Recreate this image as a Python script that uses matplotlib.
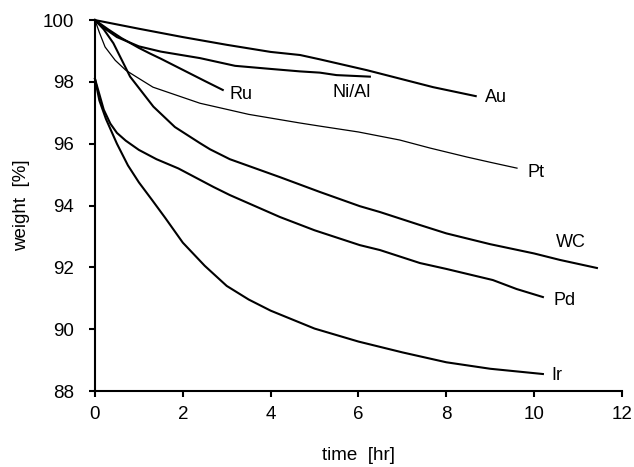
import matplotlib
matplotlib.use("Agg")
import matplotlib.pyplot as plt

plt.rcParams['font.family'] = ['Liberation Sans', 'DejaVu Sans']

# weight loss curves (time in hr, weight in %)
au_t = [0, 1, 2, 3, 4, 4.67, 5.12, 6.19, 7.7, 8.67]
au_w = [100, 99.72, 99.45, 99.2, 98.97, 98.87, 98.73, 98.38, 97.83, 97.54]

nial_t = [0, 0.25, 0.5, 1.0, 1.5, 2.39, 3.19, 4.0, 4.67, 5.12, 5.5, 6.26]
nial_w = [100, 99.7, 99.45, 99.15, 98.98, 98.77, 98.52, 98.42, 98.34, 98.3, 98.22, 98.17]

ru_t = [0, 0.3, 0.6, 1.0, 1.25, 1.5, 2.0, 2.5, 2.91]
ru_w = [100, 99.7, 99.42, 99.1, 98.92, 98.75, 98.39, 98.03, 97.74]

pt_t = [0, 0.1, 0.23, 0.46, 0.7, 0.9, 1.32, 2.39, 3.07, 3.5, 4.67, 5.12, 6.0, 6.94, 7.63, 8.47, 9.0, 9.61]
pt_w = [100, 99.6, 99.13, 98.7, 98.38, 98.2, 97.83, 97.31, 97.09, 96.95, 96.67, 96.57, 96.38, 96.12, 95.86, 95.57, 95.4, 95.21]

wc_t = [0, 0.2, 0.42, 0.8, 1.33, 1.82, 2.39, 2.62, 3.07, 4.21, 5.12, 6.03, 6.49, 7.4, 8.0, 9.0, 10.0, 10.59, 11.43]
wc_w = [100, 99.7, 99.25, 98.17, 97.2, 96.54, 96.02, 95.82, 95.5, 94.92, 94.44, 93.98, 93.79, 93.37, 93.1, 92.75, 92.45, 92.24, 91.98]

pd_t = [0, 0.1, 0.2, 0.35, 0.5, 0.7, 1.0, 1.4, 1.9, 2.7, 3.07, 4.21, 5.0, 6.03, 6.49, 7.4, 8.0, 9.06, 9.6, 10.2]
pd_w = [98.1, 97.6, 97.1, 96.65, 96.35, 96.1, 95.8, 95.5, 95.2, 94.6, 94.34, 93.63, 93.2, 92.72, 92.56, 92.14, 91.95, 91.59, 91.3, 91.04]

ir_t = [0, 0.1, 0.25, 0.5, 0.75, 1.0, 1.3, 1.6, 2.0, 2.5, 3.0, 3.5, 4.0, 5.0, 6.0, 7.0, 8.0, 9.0, 10.2]
ir_w = [98.1, 97.4, 96.8, 96.0, 95.3, 94.75, 94.18, 93.6, 92.8, 92.05, 91.4, 90.96, 90.6, 90.02, 89.6, 89.25, 88.93, 88.72, 88.55]

labels = ['Ru', 'Ni/Al', 'Au', 'Pt', 'WC', 'Pd', 'Ir']
label_x = [3.07, 5.4, 8.88, 9.86, 10.5, 10.43, 10.4]
label_y = [97.6, 97.67, 97.48, 95.08, 92.82, 90.94, 88.49]

fig = plt.figure(figsize=(6.34, 4.67), dpi=100)
ax = fig.add_axes([0.1498, 0.1627, 0.8312, 0.7943])

for t, w in [(au_t, au_w), (nial_t, nial_w), (ru_t, ru_w),
             (wc_t, wc_w), (pd_t, pd_w), (ir_t, ir_w)]:
    ax.plot(t, w, color='black', lw=1.5, clip_on=False)
# Pt is drawn with a thinner line
ax.plot(pt_t, pt_w, color='black', lw=0.9, clip_on=False)

for s, x, y in zip(labels, label_x, label_y):
    ax.text(x, y, s, fontsize=13, va='center', ha='left')

ax.set_xlim(0, 12)
ax.set_ylim(88, 100)
ax.set_xticks(range(0, 13, 2))
ax.set_yticks(range(88, 101, 2))
ax.spines['top'].set_visible(False)
ax.spines['right'].set_visible(False)
ax.spines['left'].set_linewidth(1.5)
ax.spines['bottom'].set_linewidth(1.5)
ax.tick_params(direction='out', length=4, width=1.5, labelsize=13.5)
ax.tick_params(axis='y', pad=11)
ax.tick_params(axis='x', pad=7)

ax.set_xlabel('time  [hr]', fontsize=13.5, labelpad=17)
ax.set_ylabel('weight  [%]', fontsize=13.5, labelpad=9)

fig.savefig('out.png', dpi=100)
